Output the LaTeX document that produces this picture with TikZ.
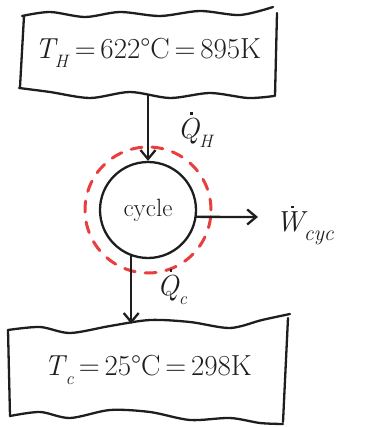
\documentclass[tikz,border=0pt]{standalone}
\usepackage{fontspec}
\usetikzlibrary{arrows.meta}
\definecolor{penred}{RGB}{232,62,62}
\definecolor{ink}{RGB}{30,30,30}
\newcommand{\mysub}[1]{\raisebox{-0.3em}{\scalebox{0.62}{#1}}}
\newcommand{\lsub}[1]{\raisebox{-0.28em}{\scalebox{0.75}{#1}}}
\newcommand{\dotover}[1]{\begingroup\setbox0\hbox{#1}\hbox to \wd0{\hss\raisebox{0.82em}{\kern0.2em\rule{2.6pt}{2.6pt}}\hss}\kern-\wd0\box0\endgroup}
\tikzset{
  pen/.style={draw=ink, line width=2.3pt, line cap=round, line join=round},
  flow/.style={pen, -{Straight Barb[length=9pt,width=15pt,line width=2.3pt]}},
  bigtext/.style={font=\fontsize{29}{34}\selectfont, text=ink},
  lbl/.style={font=\fontsize{29}{34}\selectfont\itshape, text=ink},
}
\begin{document}
\begin{tikzpicture}[x=1pt,y=-1pt]
\useasboundingbox (0,0) rectangle (367,427);
% reservoirs (text nodes)
\node[bigtext, minimum width=255pt, minimum height=84pt, inner sep=0pt] (hot) at (148,53) {\textit{T}\kern-0.1em\mysub{\textit{H}}\,=\,622°C\,=\,895K};
\node[bigtext, minimum width=280pt, minimum height=92pt, inner sep=0pt] (cold) at (148,370) {\textit{T}\kern-0.05em\mysub{\textit{c}}\,=\,25°C\,=\,298K};
% wavy frame of hot reservoir
\draw[pen] plot[smooth] coordinates {(22,16) (50,12) (85,17) (120,12) (160,16) (200,11) (240,15) (273,7)};
\draw[pen] (277,13) -- (275,96);
\draw[pen] plot[smooth] coordinates {(19,88) (50,92) (90,98) (130,92) (170,98) (210,93) (248,98) (274,96)};
\draw[pen] (24,16) -- (20,87);
% wavy frame of cold reservoir
\draw[pen] plot[smooth] coordinates {(8,330) (40,327) (70,333) (110,326) (150,320) (190,322) (230,328) (262,320) (290,314)};
\draw[pen] (288,318) -- (283,422);
\draw[pen] plot[smooth] coordinates {(10,416) (40,412) (70,418) (110,410) (150,412) (190,420) (230,418) (260,423) (283,424)};
\draw[pen] (8,330) -- (10,416);
% cycle
\node[pen, circle, minimum size=96pt, inner sep=0pt, font=\fontsize{25}{30}\selectfont, text=ink] (cyc) at (148,210) {cycle};
\draw[penred, line width=3pt, dash pattern=on 11pt off 10pt, line cap=round] (cyc.center) circle[radius=63pt];
% flows
\draw[flow] (cyc.center |- hot.south) -- (cyc.north);
\draw[flow] (cyc.-110) -- (cyc.-110 |- cold.north);
\coordinate (wend) at (258,217);
\draw[flow] (cyc.-8) -- (wend);
% labels
\node[lbl] (qh) at (195,130) {\dotover{Q}\mysub{H}};
\node[lbl] (qc) at (172,287) {\dotover{Q}\mysub{c}};
\node[lbl, anchor=west] (wc) at (272,225) {\dotover{W}\lsub{cyc}};
\end{tikzpicture}
\end{document}
